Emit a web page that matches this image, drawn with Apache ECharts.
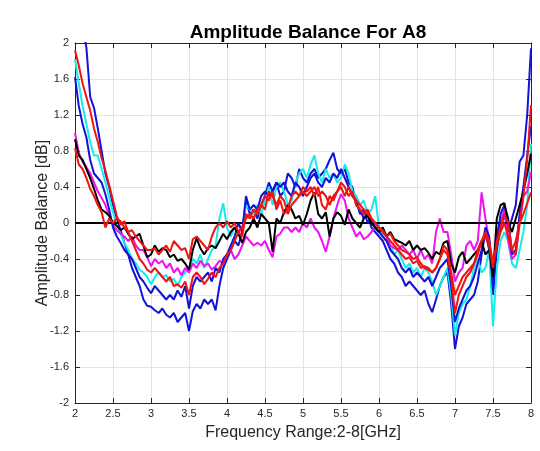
<!DOCTYPE html>
<html><head><meta charset="utf-8">
<script src="https://cdn.jsdelivr.net/npm/echarts@6/dist/echarts.min.js"></script>
<style>html,body{margin:0;padding:0;background:#fff}#c{width:540px;height:451px}</style>
</head><body><div id="c"></div>
<script>
const freq = [2.00,2.05,2.10,2.15,2.20,2.25,2.30,2.35,2.40,2.45,
 2.50,2.55,2.60,2.65,2.70,2.75,2.80,2.85,2.90,2.95,
 3.00,3.05,3.10,3.15,3.20,3.25,3.30,3.35,3.40,3.45,
 3.50,3.55,3.60,3.65,3.70,3.75,3.80,3.85,3.90,3.95,
 4.00,4.05,4.10,4.15,4.20,4.25,4.30,4.35,4.40,4.45,
 4.50,4.55,4.60,4.65,4.70,4.75,4.80,4.85,4.90,4.95,
 5.00,5.05,5.10,5.15,5.20,5.25,5.30,5.35,5.40,5.45,
 5.50,5.55,5.60,5.65,5.70,5.75,5.80,5.85,5.90,5.95,
 6.00,6.05,6.10,6.15,6.20,6.25,6.30,6.35,6.40,6.45,
 6.50,6.55,6.60,6.65,6.70,6.75,6.80,6.85,6.90,6.95,
 7.00,7.05,7.10,7.15,7.20,7.25,7.30,7.35,7.40,7.45,
 7.50,7.55,7.60,7.65,7.70,7.75,7.80,7.85,7.90,7.95,
 8.00];

const blue1 = [2.80,2.50,2.20,1.95,1.40,1.28,1.05,0.80,0.55,0.40,
 0.20,0.05,-0.08,-0.22,-0.35,-0.50,-0.60,-0.70,-0.85,-0.92,
 -0.93,-0.97,-1.00,-0.95,-1.02,-1.05,-1.00,-1.10,-1.05,-1.00,
 -1.20,-0.98,-0.90,-0.95,-0.85,-0.90,-0.85,-0.97,-0.70,-0.50,
 -0.40,-0.30,-0.20,-0.25,-0.10,0.25,0.10,0.15,0.05,0.20,
 0.30,0.45,0.35,0.45,0.30,0.35,0.55,0.50,0.40,0.60,
 0.50,0.45,0.55,0.60,0.50,0.55,0.60,0.70,0.78,0.60,
 0.55,0.60,0.45,0.40,0.20,0.15,0.05,0.10,-0.05,-0.10,
 -0.15,-0.20,-0.30,-0.40,-0.45,-0.55,-0.60,-0.70,-0.65,-0.70,
 -0.75,-0.80,-0.75,-0.90,-0.99,-0.85,-0.70,-0.60,-0.55,-0.90,
 -1.40,-1.15,-1.05,-0.90,-0.85,-0.80,-0.65,-0.35,-0.10,-0.30,
 -0.80,-0.30,-0.05,0.10,-0.10,0.05,0.20,0.68,0.75,1.20,
 1.94];

const blue2 = [1.62,1.30,1.10,0.95,0.70,0.55,0.50,0.45,0.32,0.15,
 -0.05,-0.15,-0.22,-0.30,-0.35,-0.40,-0.50,-0.60,-0.65,-0.72,
 -0.78,-0.70,-0.75,-0.80,-0.85,-0.80,-0.85,-0.75,-0.82,-0.70,
 -0.95,-0.70,-0.60,-0.65,-0.60,-0.55,-0.65,-0.50,-0.55,-0.40,
 -0.35,-0.25,-0.15,0.00,-0.10,0.30,0.15,0.20,0.15,0.30,
 0.35,0.30,0.35,0.45,0.40,0.45,0.35,0.30,0.45,0.40,
 0.30,0.40,0.50,0.55,0.45,0.40,0.50,0.45,0.55,0.50,
 0.60,0.50,0.40,0.30,0.25,0.10,0.15,0.00,0.05,-0.05,
 -0.10,-0.15,-0.20,-0.30,-0.35,-0.40,-0.50,-0.55,-0.50,-0.60,
 -0.55,-0.60,-0.65,-0.60,-0.70,-0.60,-0.50,-0.45,-0.40,-0.70,
 -1.10,-0.95,-0.85,-0.75,-0.70,-0.60,-0.45,-0.30,-0.05,-0.15,
 -0.75,-0.20,0.10,0.20,0.05,-0.35,-0.30,0.10,0.40,0.75,
 1.08];

const cyan = [1.82,1.55,1.30,1.10,0.90,0.75,0.75,0.60,0.45,0.28,
 0.12,-0.02,-0.12,-0.22,-0.30,-0.40,-0.45,-0.52,-0.55,-0.60,
 -0.68,-0.60,-0.55,-0.60,-0.58,-0.65,-0.62,-0.70,-0.60,-0.55,
 -0.50,-0.40,-0.45,-0.35,-0.50,-0.40,-0.30,-0.25,0.05,0.22,
 -0.05,-0.15,-0.05,-0.10,-0.05,0.20,0.15,0.10,0.20,0.10,
 0.25,0.40,0.20,0.40,0.45,0.35,0.20,0.25,0.45,0.55,
 0.60,0.50,0.65,0.75,0.55,0.45,0.60,0.50,0.55,0.45,
 0.50,0.65,0.55,0.35,0.30,0.20,0.25,0.10,0.15,0.30,
 -0.05,-0.15,-0.20,-0.25,-0.35,-0.30,-0.40,-0.50,-0.45,-0.55,
 -0.50,-0.60,-0.50,-0.55,-0.65,-0.80,-0.70,-0.60,-0.50,-0.80,
 -1.25,-1.00,-0.90,-0.85,-0.70,-0.50,-0.40,-0.55,-0.50,-0.30,
 -1.15,-0.50,-0.20,-0.10,-0.20,-0.45,-0.50,-0.30,-0.10,0.20,
 0.88];

const magenta = [1.00,0.78,0.68,0.62,0.55,0.45,0.35,0.28,0.20,0.08,
 -0.02,-0.08,-0.12,-0.15,-0.20,-0.15,-0.25,-0.30,-0.30,-0.38,
 -0.48,-0.40,-0.45,-0.42,-0.50,-0.45,-0.55,-0.50,-0.58,-0.50,
 -0.55,-0.45,-0.50,-0.42,-0.48,-0.45,-0.52,-0.48,-0.42,-0.45,
 -0.35,-0.30,-0.40,-0.35,-0.25,-0.15,-0.20,-0.25,-0.22,-0.25,
 -0.20,-0.30,-0.38,-0.15,-0.12,-0.05,-0.05,-0.10,-0.05,-0.10,
 0.00,-0.05,0.05,-0.05,-0.10,-0.20,-0.32,-0.15,0.05,0.20,
 0.32,0.25,0.05,-0.05,-0.15,-0.10,-0.18,-0.15,-0.10,-0.05,
 -0.05,-0.10,-0.15,-0.25,-0.28,-0.30,-0.25,-0.30,-0.35,-0.30,
 -0.40,-0.30,-0.40,-0.35,-0.45,-0.10,0.05,-0.10,-0.10,-0.35,
 -0.65,-0.55,-0.50,-0.25,-0.20,-0.30,-0.20,0.34,0.05,-0.20,
 -0.50,-0.10,0.00,0.15,-0.20,-0.40,-0.35,0.00,0.30,0.35,
 0.57];

const black = [0.93,0.75,0.70,0.60,0.50,0.38,0.25,0.15,0.12,0.08,
 0.00,-0.03,-0.08,-0.05,-0.12,-0.18,-0.15,-0.12,-0.25,-0.38,
 -0.35,-0.25,-0.32,-0.28,-0.30,-0.38,-0.35,-0.42,-0.40,-0.45,
 -0.52,-0.30,-0.17,-0.28,-0.35,-0.28,-0.25,-0.28,-0.20,-0.12,
 -0.18,-0.10,-0.05,-0.12,-0.22,-0.10,-0.05,0.05,-0.05,0.10,
 0.05,0.00,-0.32,0.05,0.00,0.12,0.20,0.15,0.05,0.08,
 -0.02,0.10,0.25,0.34,0.10,0.05,0.12,-0.15,0.05,0.12,
 0.08,-0.02,0.15,0.05,0.00,-0.05,0.05,0.08,0.00,-0.05,
 -0.10,-0.05,-0.15,-0.10,-0.18,-0.20,-0.22,-0.25,-0.20,-0.30,
 -0.25,-0.30,-0.28,-0.33,-0.40,-0.32,-0.35,-0.22,-0.20,-0.45,
 -0.55,-0.38,-0.32,-0.45,-0.40,-0.35,-0.30,-0.20,-0.35,-0.30,
 -0.60,0.05,0.20,0.22,0.00,-0.10,0.05,0.20,0.35,0.55,
 0.77];

const red1 = [1.92,1.75,1.55,1.40,1.25,1.05,0.90,0.72,0.58,0.42,
 0.25,0.08,-0.02,0.02,-0.10,-0.20,-0.30,-0.40,-0.45,-0.52,
 -0.55,-0.50,-0.55,-0.60,-0.65,-0.60,-0.70,-0.68,-0.72,-0.65,
 -0.80,-0.60,-0.55,-0.60,-0.68,-0.62,-0.55,-0.60,-0.50,-0.45,
 -0.35,-0.30,-0.20,-0.10,-0.15,0.10,0.05,0.15,0.10,0.20,
 0.30,0.25,0.35,0.15,0.25,0.10,0.15,0.30,0.35,0.30,
 0.40,0.35,0.40,0.30,0.40,0.20,0.15,0.30,0.25,0.35,
 0.45,0.40,0.30,0.35,0.20,0.15,0.10,0.15,0.05,0.00,
 -0.05,-0.10,-0.15,-0.20,-0.25,-0.30,-0.35,-0.40,-0.38,-0.45,
 -0.42,-0.50,-0.48,-0.50,-0.55,-0.50,-0.40,-0.30,-0.35,-0.60,
 -1.00,-0.80,-0.70,-0.60,-0.55,-0.45,-0.30,-0.20,-0.15,-0.25,
 -0.50,-0.20,-0.05,0.10,0.00,-0.30,-0.35,0.00,0.30,0.70,
 1.31];

const red2 = [0.83,0.65,0.60,0.50,0.38,0.30,0.20,0.12,-0.05,0.05,
 0.00,0.05,0.02,-0.05,-0.10,-0.08,-0.15,-0.20,-0.25,-0.30,
 -0.30,-0.28,-0.35,-0.30,-0.25,-0.32,-0.20,-0.25,-0.30,-0.28,
 -0.40,-0.18,-0.15,-0.20,-0.25,-0.30,-0.15,-0.05,0.00,-0.05,
 0.02,-0.05,0.00,-0.10,-0.05,0.05,0.10,0.05,0.15,0.20,
 0.15,0.35,0.30,0.20,0.30,0.25,0.10,0.20,0.25,0.30,
 0.35,0.30,0.35,0.40,0.30,0.35,0.30,0.20,0.30,0.35,
 0.40,0.30,0.40,0.30,0.25,0.20,0.15,0.10,0.05,0.00,
 -0.05,-0.08,-0.15,-0.12,-0.20,-0.25,-0.30,-0.32,-0.35,-0.40,
 -0.38,-0.45,-0.50,-0.52,-0.55,-0.50,-0.40,-0.25,-0.30,-0.55,
 -0.80,-0.70,-0.60,-0.55,-0.50,-0.45,-0.35,-0.20,-0.10,-0.20,
 -0.45,-0.25,-0.10,0.00,-0.15,-0.30,-0.20,0.00,0.10,0.22,
 0.34];

const xTickLabels = ['2','2.5','3','3.5','4','4.5','5','5.5','6','6.5','7','7.5','8'];
const yTickLabels = ['-2','-1.6','-1.2','-0.8','-0.4','0','0.4','0.8','1.2','1.6','2'];

const seriesList = [
  {name:'blue1', data: blue1, color:'#1212d8'},
  {name:'cyan', data: cyan, color:'#14ecec'},
  {name:'magenta', data: magenta, color:'#ee14ee'},
  {name:'blue2', data: blue2, color:'#1212d8'},
  {name:'black', data: black, color:'#000000'},
  {name:'red2', data: red2, color:'#f01414'},
  {name:'red1', data: red1, color:'#f01414'}
];

const axisCol = '#262626';
const chart = echarts.init(document.getElementById('c'));
const fmtY = v => { const s = String(Math.round(v*10)/10); const i = yTickLabels.indexOf(s); return i >= 0 ? yTickLabels[i] : s; };
const fmtX = v => { const s = String(Math.round(v*10)/10); const i = xTickLabels.indexOf(s); return i >= 0 ? xTickLabels[i] : s; };
const font = 'Liberation Sans, Arial, Helvetica, sans-serif';

chart.setOption({
  backgroundColor: '#ffffff',
  animation: false,
  title: {
    text: 'Amplitude Balance For A8',
    left: 303, top: 18, textAlign: 'center',
    textStyle: {fontSize: 19, fontWeight: 'bold', color: '#000', fontFamily: font}
  },
  grid: {left: 75, right: 9, top: 43, bottom: 48, containLabel: false},
  xAxis: [{
    type: 'value', min: 2, max: 8, interval: 0.5, position: 'bottom',
    name: 'Frequency Range:2-8[GHz]', nameLocation: 'middle', nameGap: 22,
    nameMoveOverlap: false,
    nameTextStyle: {fontSize: 16, color: axisCol, fontFamily: font},
    axisLine: {show: true, onZero: false, lineStyle: {color: axisCol, width: 1}},
    axisTick: {show: true, inside: true, length: 5, lineStyle: {color: axisCol}},
    axisLabel: {fontSize: 11, color: axisCol, margin: 5, fontFamily: font, formatter: fmtX},
    splitLine: {show: true, lineStyle: {color: '#e3e3e3', width: 1}}
  }, {
    type: 'value', min: 2, max: 8, interval: 0.5, position: 'top',
    axisLine: {show: true, onZero: false, lineStyle: {color: axisCol, width: 1}},
    axisTick: {show: true, inside: true, length: 5, lineStyle: {color: axisCol}},
    axisLabel: {show: false}, splitLine: {show: false}
  }],
  yAxis: [{
    type: 'value', min: -2, max: 2, interval: 0.4, position: 'left',
    name: 'Amplitude Balance [dB]', nameLocation: 'middle', nameGap: 24,
    nameMoveOverlap: false,
    nameTextStyle: {fontSize: 16, color: axisCol, fontFamily: font},
    axisLine: {show: true, onZero: false, lineStyle: {color: axisCol, width: 1}},
    axisTick: {show: true, inside: true, length: 5, lineStyle: {color: axisCol}},
    axisLabel: {fontSize: 11, color: axisCol, margin: 6, fontFamily: font, formatter: fmtY},
    splitLine: {show: true, lineStyle: {color: '#e3e3e3', width: 1}}
  }, {
    type: 'value', min: -2, max: 2, interval: 0.4, position: 'right',
    axisLine: {show: true, onZero: false, lineStyle: {color: axisCol, width: 1}},
    axisTick: {show: true, inside: true, length: 5, lineStyle: {color: axisCol}},
    axisLabel: {show: false}, splitLine: {show: false}
  }],
  series: seriesList.map((s, i) => {
    const o = {
      name: s.name, type: 'line', xAxisIndex: 0, yAxisIndex: 0,
      data: freq.map((f, j) => [f, s.data[j]]),
      showSymbol: false, symbol: 'none', clip: true,
      lineStyle: {color: s.color, width: 2},
      itemStyle: {color: s.color}, z: 2 + i
    };
    if (i === seriesList.length - 1) {
      o.markLine = {
        silent: true, symbol: 'none', animation: false,
        label: {show: false},
        lineStyle: {color: '#000', width: 2, type: 'solid'},
        data: [{yAxis: 0}]
      };
    }
    return o;
  })
});
</script>
</body></html>
